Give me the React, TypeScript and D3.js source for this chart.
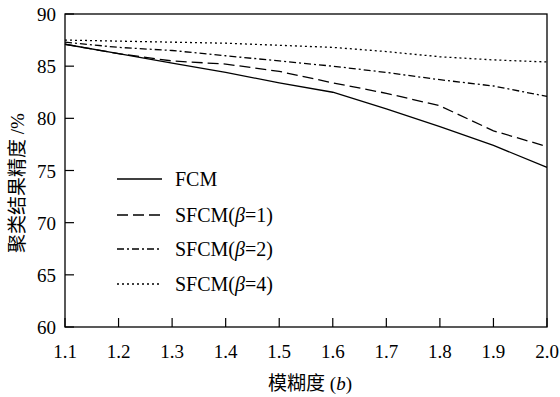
import React from "react";
import * as d3 from "d3";

const xValues = [1.1, 1.2, 1.3, 1.4, 1.5, 1.6, 1.7, 1.8, 1.9, 2.0];
const fcm = [87.1, 86.2, 85.3, 84.4, 83.4, 82.5, 80.9, 79.2, 77.4, 75.3];
const sfcm1 = [87.1, 86.2, 85.5, 85.2, 84.5, 83.4, 82.4, 81.2, 78.8, 77.3];
const sfcm2 = [87.3, 86.8, 86.5, 86.0, 85.5, 85.0, 84.4, 83.7, 83.1, 82.1];
const sfcm4 = [87.5, 87.4, 87.3, 87.2, 87.0, 86.8, 86.4, 85.9, 85.6, 85.4];
const xTicks = [1.1, 1.2, 1.3, 1.4, 1.5, 1.6, 1.7, 1.8, 1.9, 2.0];
const yTicks = [60, 65, 70, 75, 80, 85, 90];

const seriesNames = ["FCM", "SFCM(β=1)", "SFCM(β=2)", "SFCM(β=4)"];
const seriesValues = [fcm, sfcm1, sfcm2, sfcm4];
const dashes = ["", "11,5", "7,3,2,3", "2,3"];

export default function App() {
  const W = 560, H = 397;
  const x0 = 65, x1 = 547, y0 = 327, y1 = 14;
  const x = d3.scaleLinear().domain([1.1, 2.0]).range([x0, x1]);
  const y = d3.scaleLinear().domain([60, 90]).range([y0, y1]);
  const line = d3
    .line<[number, number]>()
    .x((d) => x(d[0]))
    .y((d) => y(d[1]));
  const font = "'Liberation Serif', 'Times New Roman', serif";
  const cjk = "'Liberation Serif', 'Noto Sans CJK SC', serif";
  const legendY = [179, 215, 249, 284];

  return (
    <svg
      width={W}
      height={H}
      style={{ position: "absolute", left: 0, top: 0, background: "#fff" }}
      fontFamily={font}
    >
      <rect x={x0} y={y1} width={x1 - x0} height={y0 - y1} fill="none" stroke="#000" strokeWidth={1.3} />
      {xTicks.map((t) => (
        <g key={"x" + t}>
          <line x1={x(t)} x2={x(t)} y1={y0} y2={y0 - 9} stroke="#000" strokeWidth={1.2} />
          <text x={x(t)} y={358} textAnchor="middle" fontSize={19}>
            {t.toFixed(1)}
          </text>
        </g>
      ))}
      {yTicks.map((t) => (
        <g key={"y" + t}>
          <line x1={x0} x2={x0 + 9} y1={y(t)} y2={y(t)} stroke="#000" strokeWidth={1.2} />
          <text x={56} y={y(t) + 7} textAnchor="end" fontSize={19}>
            {t}
          </text>
        </g>
      ))}
      {seriesValues.map((vals, i) => (
        <path
          key={"s" + i}
          d={line(vals.map((v, j) => [xValues[j], v]) as [number, number][]) || ""}
          fill="none"
          stroke="#000"
          strokeWidth={1.3}
          strokeDasharray={dashes[i] || undefined}
        />
      ))}
      {seriesNames.map((n, i) => (
        <g key={"l" + i}>
          <line
            x1={117}
            x2={162}
            y1={legendY[i]}
            y2={legendY[i]}
            stroke="#000"
            strokeWidth={1.3}
            strokeDasharray={dashes[i] || undefined}
          />
          <text x={175} y={legendY[i] + 7} fontSize={20}>
            {i === 0 ? (
              "FCM"
            ) : (
              <>
                SFCM(<tspan fontStyle="italic">β</tspan>={n.match(/=(\d)/)![1]})
              </>
            )}
          </text>
        </g>
      ))}
      <text x={310} y={390} textAnchor="middle" fontSize={19} fontFamily={cjk}>
        模糊度 (<tspan fontStyle="italic">b</tspan>)
      </text>
      <text
        transform="translate(24,183) rotate(-90)"
        textAnchor="middle"
        fontSize={19}
        fontFamily={cjk}
      >
        聚类结果精度 /%
      </text>
    </svg>
  );
}
